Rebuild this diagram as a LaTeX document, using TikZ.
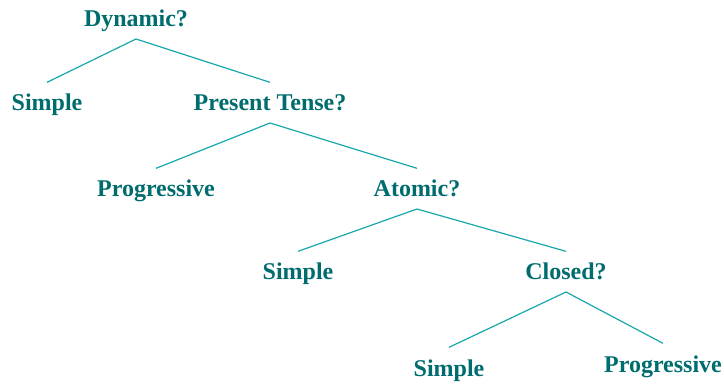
\documentclass[tikz,border=0pt]{standalone}
\usepackage{fontspec}
\setmainfont{Liberation Serif}
\usepackage{xcolor}
\definecolor{colorLabel}{RGB}{0,108,110}
\definecolor{colorBranch}{RGB}{22,168,172}
\usepackage{tikz}
\tikzset{
  test/.style={anchor=base, font=\bfseries\fontsize{18}{20}\selectfont, text=colorLabel,
    text height=12.5pt, text depth=0pt, inner xsep=2pt, inner ysep=9pt, outer sep=0pt},
  branch/.style={draw=colorBranch, line width=0.9pt}
}

\begin{document}
\begin{tikzpicture}[x=0.75pt, y=-0.75pt]
\useasboundingbox (0,0) rectangle (724,384);
\node[test] (dyn) at (136,27) {Dynamic?};
\node[test] (simple1) at (47,111) {Simple};
\node[test] (present) at (270,111) {Present Tense?};
\node[test] (prog1) at (156,197) {Progressive};
\node[test] (atomic) at (417,197) {Atomic?};
\node[test] (simple2) at (298,280) {Simple};
\node[test] (closed) at (566,280) {Closed?};
\node[test] (simple3) at (449,376) {Simple};
\node[test] (prog2) at (663,372) {Progressive};
\draw [branch] (dyn.south) -- (simple1.north);
\draw [branch] (dyn.south) -- (present.north);
\draw [branch] (present.south) -- (prog1.north);
\draw [branch] (present.south) -- (atomic.north);
\draw [branch] (atomic.south) -- (simple2.north);
\draw [branch] (atomic.south) -- (closed.north);
\draw [branch] (closed.south) -- (simple3.north);
\draw [branch] (closed.south) -- (prog2.north);
\end{tikzpicture}
\end{document}
